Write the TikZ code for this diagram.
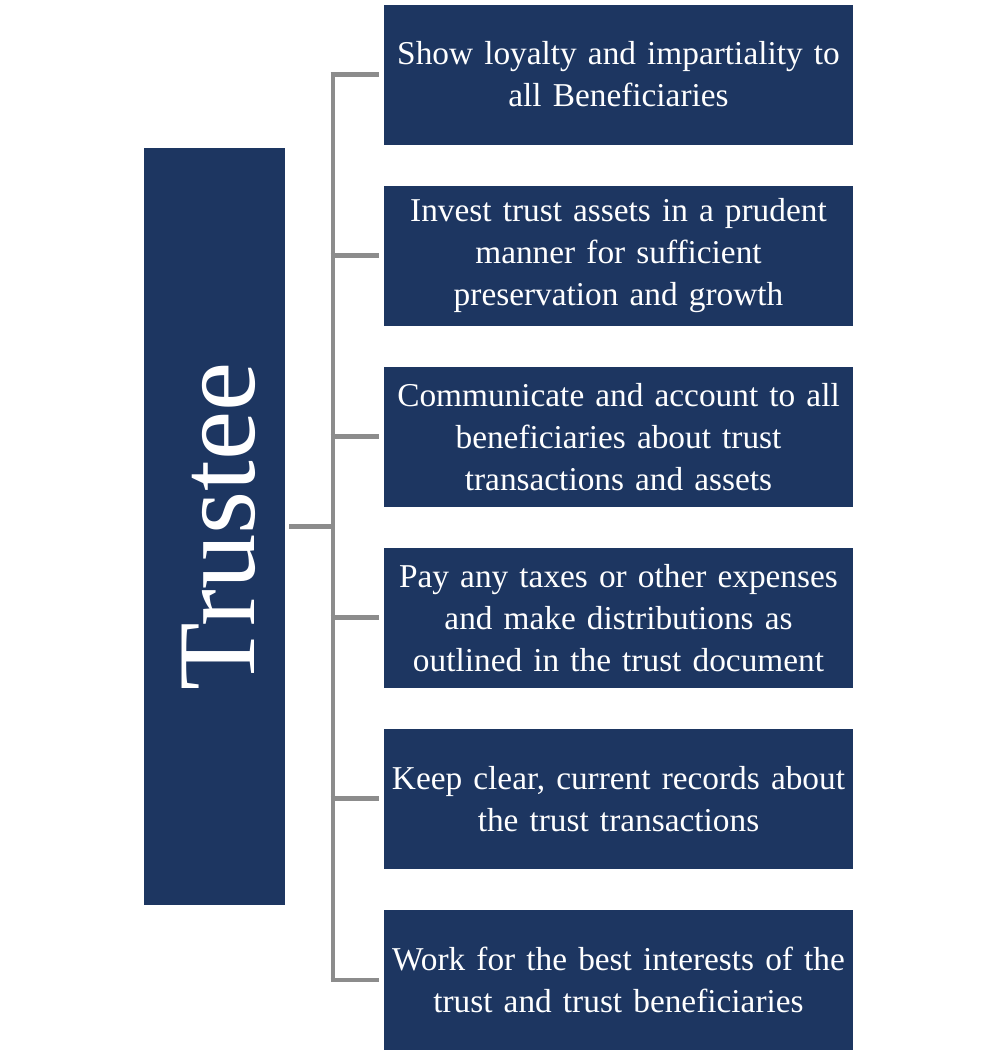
\documentclass[tikz,border=0pt]{standalone}
\usepackage{fontspec}
\setmainfont{Liberation Serif}[WordSpace=0.5]
\usepackage{xcolor}
\usepackage{tikz}
\usetikzlibrary{positioning, calc}
\definecolor{TrustNavy}{HTML}{1D3661}
\definecolor{LinkGray}{HTML}{8C8C8C}

\begin{document}
\begin{tikzpicture}[
  x=0.75pt, y=-0.75pt,
  node distance=30.4pt,
  duty/.style={rectangle, fill=TrustNavy, text=white, minimum width=351.75pt,
    minimum height=105pt, text width=351pt, align=center,
    font=\fontsize{25}{31.5}\selectfont, inner sep=0pt},
  link/.style={draw=LinkGray, line width=3.5pt}
]
\useasboundingbox (0,0) rectangle (998,1053);

\node[rectangle, fill=TrustNavy, minimum width=105.75pt, minimum height=567.75pt,
  inner sep=0pt] (trustee) at (214.5,526.5) {};
\node[text=white, rotate=90, font=\fontsize{83}{83}\selectfont]
  at ([xshift=3pt]trustee.center) {Trustee};

\node[duty] (d1) at (618.5,74.5) {Show loyalty and impartiality to\\all Beneficiaries};
\node[duty, below=of d1] (d2) {Invest trust assets in a prudent\\manner for sufficient\\preservation and growth};
\node[duty, below=of d2] (d3) {Communicate and account to all\\beneficiaries about trust\\transactions and assets};
\node[duty, below=of d3] (d4) {Pay any taxes or other expenses\\and make distributions as\\outlined in the trust document};
\node[duty, below=of d4] (d5) {Keep clear, current records about\\the trust transactions};
\node[duty, below=of d5] (d6) {Work for the best interests of the\\trust and trust beneficiaries};

% Connectors
\coordinate (spine) at (333,526.5);
\draw[link] ([xshift=3pt]trustee.east) -- (spine);
\draw[link] (spine |- d1.west) -- (spine |- d6.west);
\foreach \d in {d1,d2,d3,d4,d5,d6}
  \draw[link] ([xshift=-1.75pt]spine |- \d.west) -- ([xshift=-3.5pt]\d.west);

\end{tikzpicture}
\end{document}
